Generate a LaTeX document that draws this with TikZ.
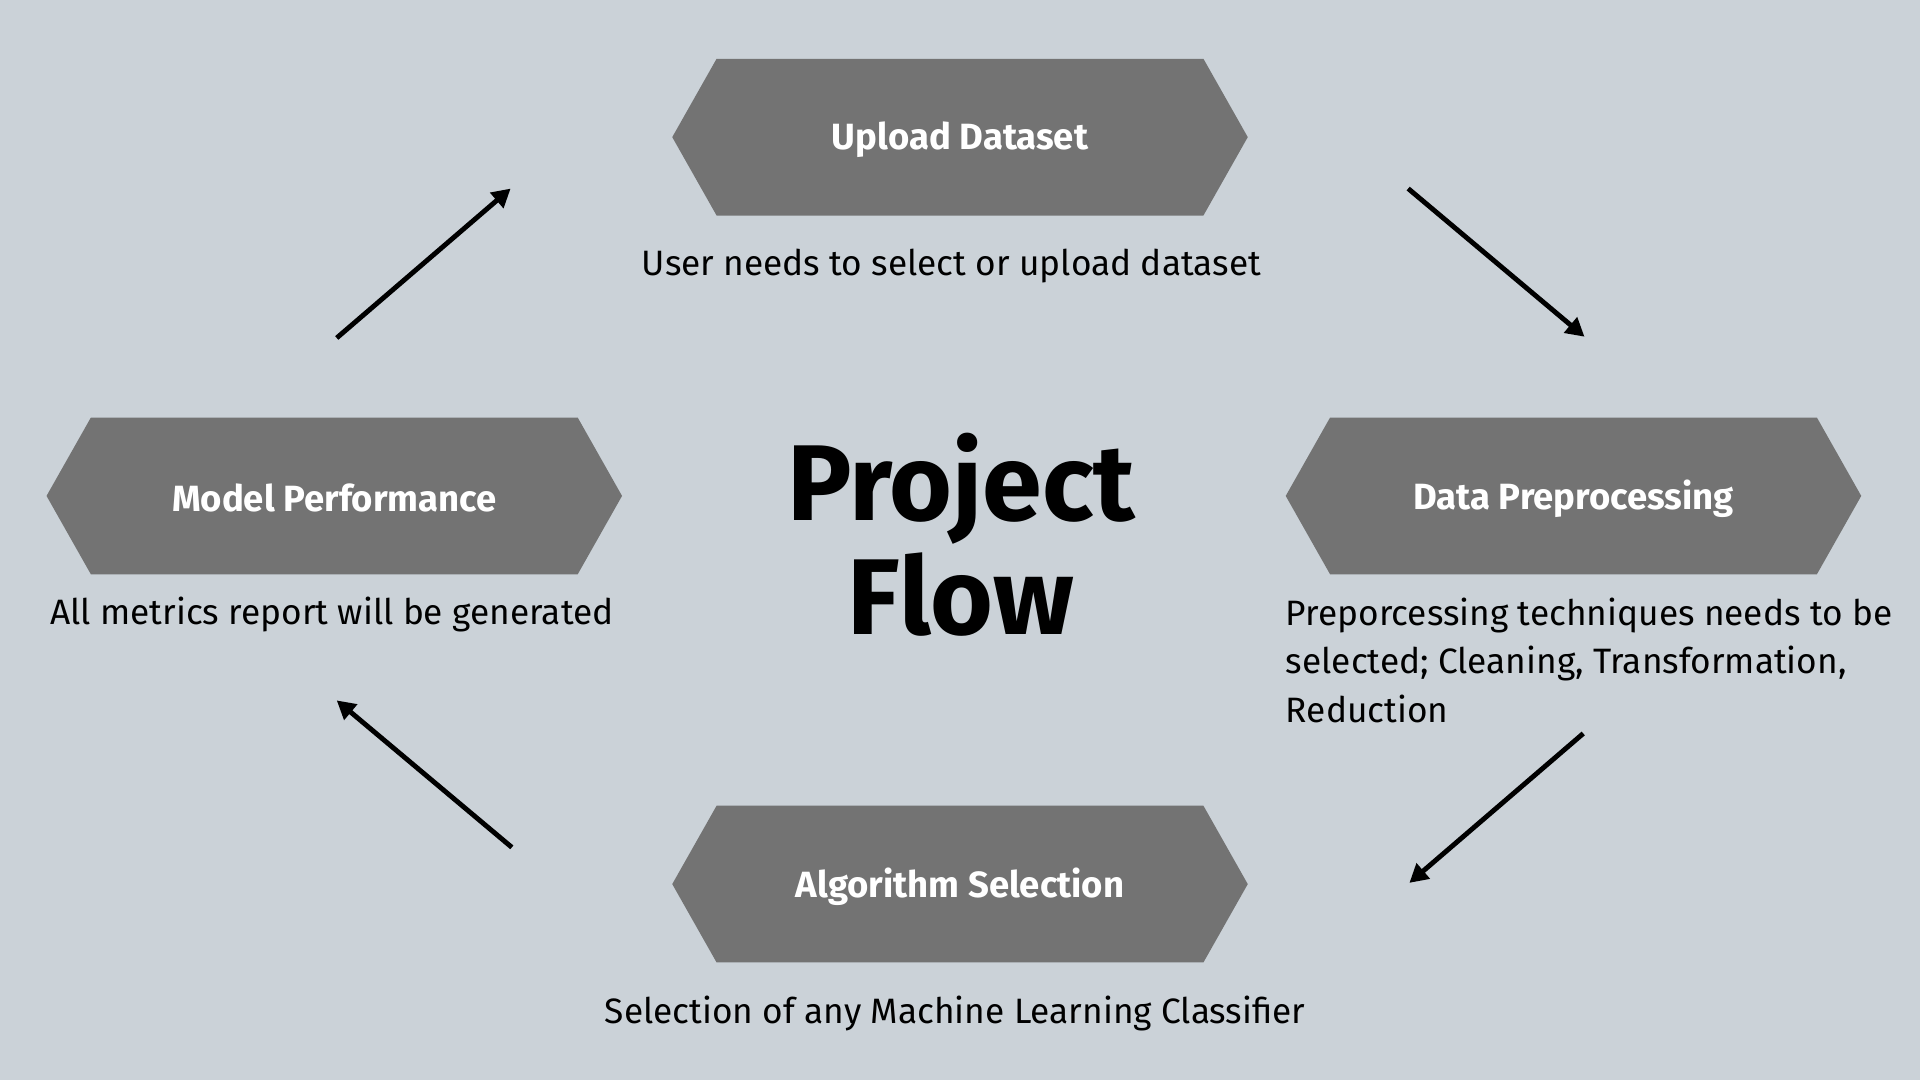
\documentclass[tikz,border=0pt]{standalone}
\usepackage{fontspec}
\setmainfont{Fira Sans}
\usetikzlibrary{shapes.symbols,arrows.meta}
\definecolor{bgc}{RGB}{203,210,216}
\definecolor{hexc}{RGB}{115,115,115}
\tikzset{
  hexbox/.style={shape=signal, signal to=east and west, signal pointer angle=121,
    fill=hexc, draw=none, minimum width=470pt, minimum height=128pt, inner sep=0pt},
  hexlabel/.style={text=white, font=\fontsize{29.8}{34}\selectfont\bfseries, inner sep=0pt},
  desc/.style={text=black, font=\fontsize{28.8}{39.5}\selectfont, inner sep=0pt},
  flowarrow/.style={line width=4pt, -{Triangle[length=15pt,width=16pt]}}
}
\begin{document}
\begin{tikzpicture}[x=1pt,y=-1pt]
\fill[bgc] (0,0) rectangle (1568,882);
\useasboundingbox (0,0) rectangle (1568,882);
\node[hexbox] (up) at (784,112) {};
\node[hexbox] (pre) at (1285,405) {};
\node[hexbox] (alg) at (784,722) {};
\node[hexbox] (perf) at (273,405) {};
\node[hexlabel] (uplab) at ([yshift=-2pt]up.center) {Upload Dataset};
\node[hexlabel] (prelab) at ([yshift=-2pt]pre.center) {Data Preprocessing};
\node[hexlabel] (alglab) at ([yshift=-2pt]alg.center) {Algorithm Selection};
\node[hexlabel] (perflab) at ([yshift=-2pt]perf.center) {Model Performance};
\node[desc] (updesc) at (777,217) {User needs to select or upload dataset};
\node[desc, anchor=north west, align=left] (predesc) at (1050,488) {Preporcessing techniques needs to be\\selected; Cleaning, Transformation,\\Reduction};
\node[desc] (algdesc) at (780,828) {Selection of any Machine Learning Classifier};
\node[desc] (perfdesc) at (271,502) {All metrics report will be generated};
\node[font=\fontsize{88}{93}\selectfont\bfseries, align=center, inner sep=0pt] (title) at (785,437) {Project\\Flow};
\coordinate (a1s) at (1150,154); \coordinate (a1e) at (1294,275);
\coordinate (a2s) at (1293,599); \coordinate (a2e) at (1151,721);
\coordinate (a3s) at (418,692); \coordinate (a3e) at (275,572);
\coordinate (a4s) at (275,276); \coordinate (a4e) at (417,154);
\draw[flowarrow] (a1s) -- (a1e);
\draw[flowarrow] (a2s) -- (a2e);
\draw[flowarrow] (a3s) -- (a3e);
\draw[flowarrow] (a4s) -- (a4e);
\end{tikzpicture}
\end{document}
